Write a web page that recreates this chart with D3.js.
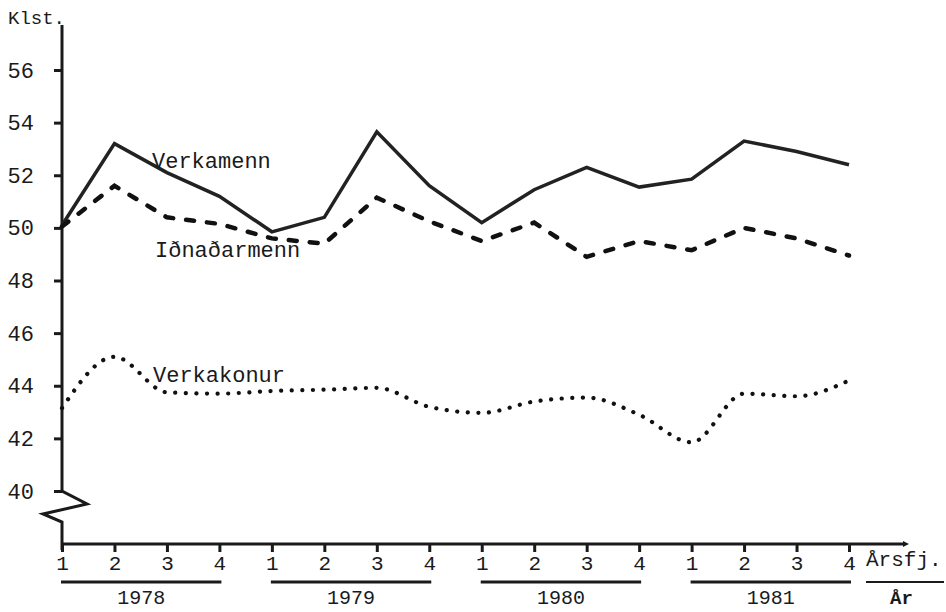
<!DOCTYPE html>
<html>
<head>
<meta charset="utf-8">
<script src="https://cdn.jsdelivr.net/npm/d3@7"></script>
<style>
  body { margin: 0; background: #fff; }
  svg text { font-family: "Liberation Mono", "DejaVu Sans Mono", monospace; fill: #1a1a1a; }
</style>
</head>
<body>
<div id="chart"></div>
<script>
// quarters 1978..1981, 4 per year
const years = ["1978", "1979", "1980", "1981"];
const quarterLabels = ["1", "2", "3", "4"];
const yTicks = [40, 42, 44, 46, 48, 50, 52, 54, 56];

// hours per week (Klst.)
const verkamenn   = [50.1, 53.2, 52.1, 51.2, 49.85, 50.4, 53.65, 51.6, 50.2, 51.45, 52.3, 51.55, 51.85, 53.3, 52.9, 52.4];
const idnadarmenn = [50.05, 51.6, 50.4, 50.15, 49.6, 49.4, 51.15, 50.25, 49.5, 50.2, 48.9, 49.5, 49.15, 50.0, 49.6, 48.95];
const verkakonur  = [43.15, 45.1, 43.75, 43.7, 43.8, 43.85, 43.92, 43.2, 42.97, 43.4, 43.55, 42.9, 41.85, 43.7, 43.6, 44.2];

const width = 946, height = 612;
const ink = "#1a1a1a";

const svg = d3.select("#chart").append("svg")
    .attr("width", width)
    .attr("height", height);

// scales
const x = d3.scaleLinear().domain([0, 15]).range([62, 849]);
const y = d3.scaleLinear().domain([40, 56]).range([491, 70]);
const axisY = 544; // where the time axis sits (below the break)

// --- y axis (with the break zigzag under 40) ---
const yAx = svg.append("g")
    .attr("transform", "translate(" + x(0) + ",0)")
    .call(d3.axisLeft(y).tickValues(yTicks).tickSize(8).tickPadding(20));
yAx.select(".domain").remove();
yAx.selectAll(".tick line").attr("stroke", ink).attr("stroke-width", 3);
yAx.selectAll(".tick text")
    .attr("font-size", 22)
    .attr("fill", ink)
    .style("font-family", "'Liberation Mono', monospace");

const x0 = x(0);
svg.append("path")
    .attr("d", d3.line()([
        [x0, 25], [x0, y(40)], [x0 + 25, y(40) + 13], [x0 - 19, y(40) + 23],
        [x0, y(40) + 31], [x0, axisY + 6]
    ]))
    .attr("fill", "none")
    .attr("stroke", ink)
    .attr("stroke-width", 3)
    .attr("stroke-linejoin", "miter");

svg.append("text")
    .attr("x", 8).attr("y", 24)
    .attr("font-size", 19)
    .text("Klst.");

// --- x axis (quarters) ---
svg.append("line")
    .attr("x1", x0).attr("x2", 903)
    .attr("y1", axisY).attr("y2", axisY)
    .attr("stroke", ink).attr("stroke-width", 3);
svg.append("path")
    .attr("d", "M903," + (axisY - 3) + "L909," + axisY + "L903," + (axisY + 3) + "Z")
    .attr("fill", ink);

const qIdx = d3.range(16);
const xAx = svg.append("g")
    .attr("transform", "translate(0," + axisY + ")")
    .call(d3.axisBottom(x).tickValues(qIdx)
        .tickSize(8).tickPadding(3)
        .tickFormat(i => quarterLabels[i % 4]));
xAx.select(".domain").remove();
xAx.selectAll(".tick line").attr("stroke", ink).attr("stroke-width", 3);
xAx.selectAll(".tick text")
    .attr("font-size", 21)
    .attr("fill", ink)
    .style("font-family", "'Liberation Mono', monospace");

// year underline bars + labels
const yearG = svg.append("g");
years.forEach((yr, k) => {
    const a = x(k * 4) - 1, b = x(k * 4 + 3) + 2;
    yearG.append("line")
        .attr("x1", a).attr("x2", b)
        .attr("y1", 582).attr("y2", 582)
        .attr("stroke", ink).attr("stroke-width", 3);
    yearG.append("text")
        .attr("x", (a + b) / 2).attr("y", 604)
        .attr("text-anchor", "middle")
        .attr("font-size", 20)
        .text(yr);
});

svg.append("text")
    .attr("x", 866).attr("y", 566)
    .attr("font-size", 21)
    .text("Årsfj.");
svg.append("line")
    .attr("x1", 866).attr("x2", 944)
    .attr("y1", 582).attr("y2", 582)
    .attr("stroke", ink).attr("stroke-width", 2);
svg.append("text")
    .attr("x", 890).attr("y", 604)
    .attr("font-size", 19)
    .attr("font-weight", "bold")
    .text("År");

// --- series ---
const lineStraight = d3.line().x((d, i) => x(i)).y(d => y(d));
const lineCurved = d3.line().x((d, i) => x(i)).y(d => y(d)).curve(d3.curveMonotoneX);

svg.append("path")
    .datum(verkamenn)
    .attr("d", lineStraight)
    .attr("fill", "none")
    .attr("stroke", "#222")
    .attr("stroke-width", 3.5)
    .attr("stroke-linejoin", "miter");

svg.append("path")
    .datum(idnadarmenn)
    .attr("d", lineStraight)
    .attr("fill", "none")
    .attr("stroke", "#111")
    .attr("stroke-width", 4.5)
    .attr("stroke-linecap", "round")
    .attr("stroke-dasharray", "8 13");

svg.append("path")
    .datum(verkakonur)
    .attr("d", lineCurved)
    .attr("fill", "none")
    .attr("stroke", "#111")
    .attr("stroke-width", 4.2)
    .attr("stroke-linecap", "round")
    .attr("stroke-dasharray", "0.1 10.5");

// series labels
svg.append("text").attr("x", 152).attr("y", 168).attr("font-size", 22).text("Verkamenn");
svg.append("text").attr("x", 155).attr("y", 257).attr("font-size", 22).text("Iðnaðarmenn");
svg.append("text").attr("x", 153).attr("y", 382).attr("font-size", 22).text("Verkakonur");
</script>
</body>
</html>
